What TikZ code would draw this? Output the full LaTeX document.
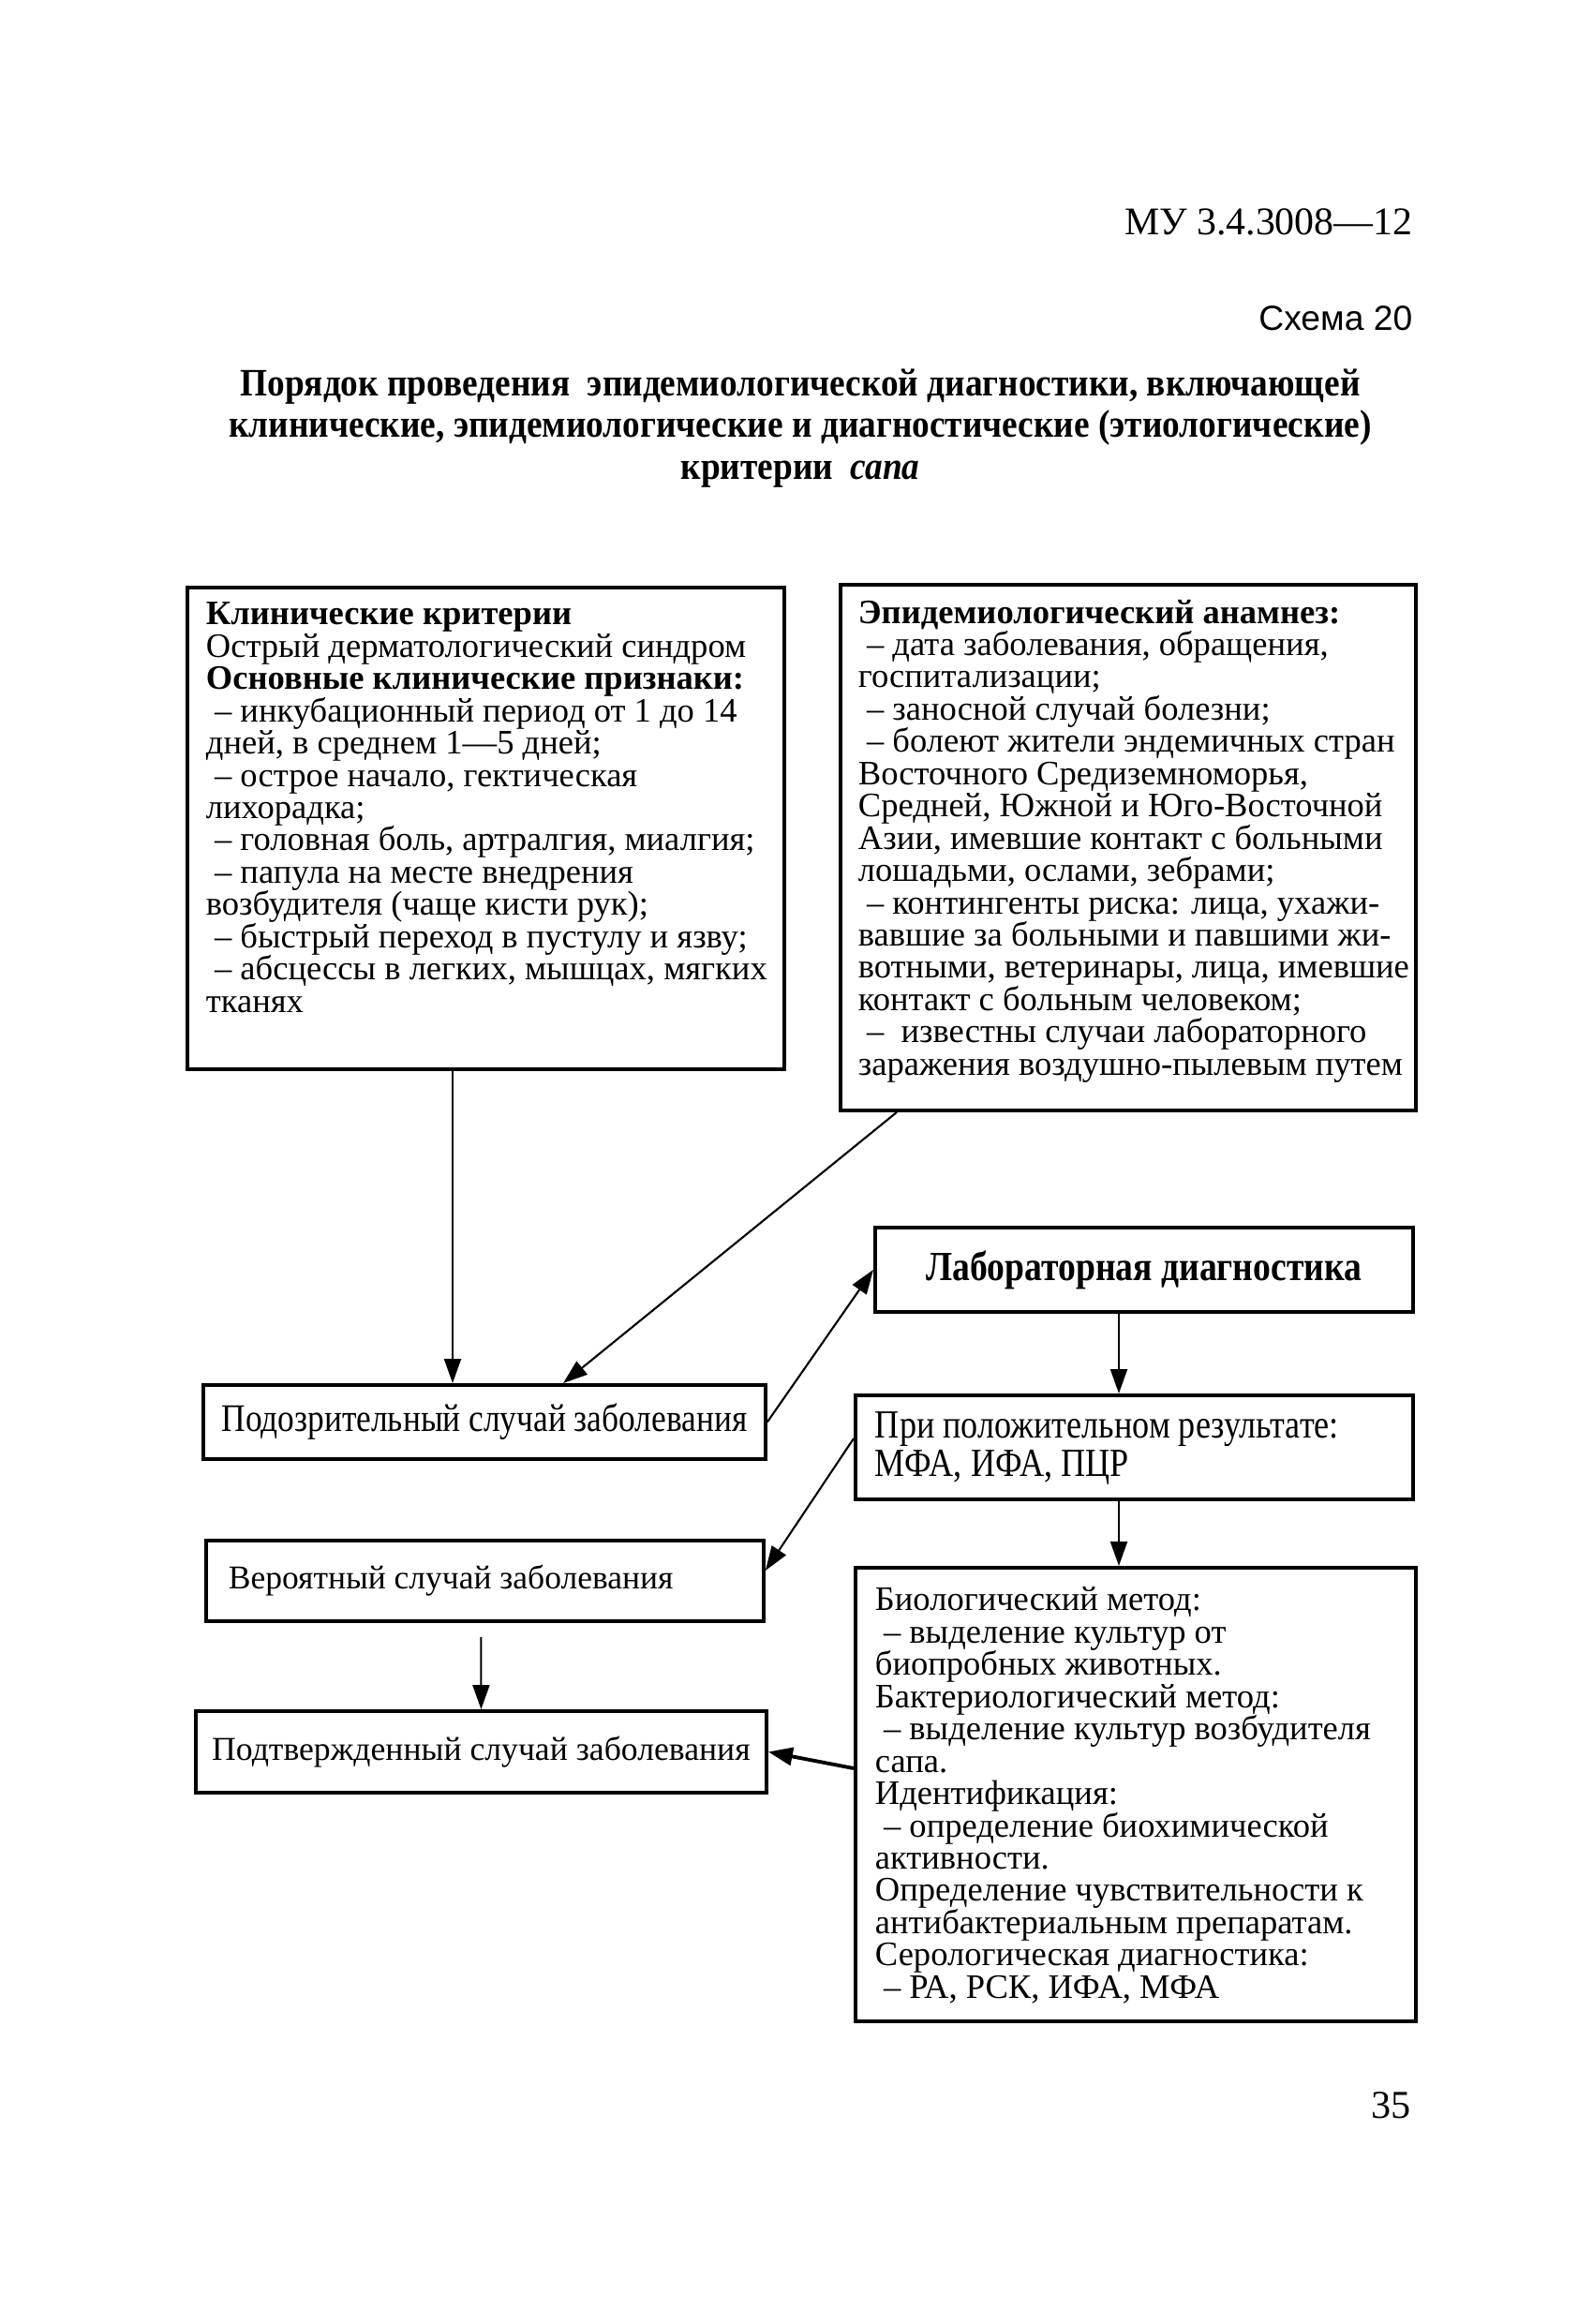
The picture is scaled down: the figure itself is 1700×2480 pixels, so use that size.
\documentclass[tikz,border=0pt]{standalone}
\usepackage{fontspec}
\setmainfont{Liberation Serif}
\newfontfamily\condfont[FakeStretch=0.85]{Liberation Serif}
\newfontfamily\titlefont[FakeStretch=0.9]{Liberation Serif}
\newfontfamily\sansfont{Liberation Sans}
\usetikzlibrary{arrows.meta,calc}
\newcommand{\bxt}[3]{\parbox[c][#2][t]{#1}{\raggedright\fontsize{10.4}{9.8}\selectfont #3}}
\newcommand{\lin}[1]{\mbox{#1}\\}
\newcommand{\dl}{\hspace*{0.25em}–\ }
\tikzset{
  bigbox/.style={draw, line width=1.1pt, anchor=north west, inner xsep=2mm, inner ysep=1mm},
  smallbox/.style={draw, line width=1.1pt, anchor=north west, inner sep=0pt},
  arr/.style={-{Triangle[length=2.6mm,width=1.8mm]}, line width=0.6pt},
  arrthick/.style={-{Triangle[length=2.6mm,width=1.9mm]}, line width=1.1pt}
}
\begin{document}
\begin{tikzpicture}[x=0.1mm,y=-0.1mm]
\useasboundingbox (0,0) rectangle (1700,2480);
\fill[white] (0,0) rectangle (1700,2480);

% header
\node[anchor=east, inner sep=0pt] (mu) at (1508,237) {\fontsize{11.9}{14}\selectfont МУ 3.4.3008—12};
\node[anchor=east, inner sep=0pt] (sch) at (1508,340) {\sansfont\fontsize{10.6}{13}\selectfont Схема 20};
\node[align=center, inner sep=0pt, font=\titlefont\bfseries\fontsize{11.8}{12.6}\selectfont] (title) at (854,457)
{Порядок проведения\ \ эпидемиологической диагностики, включающей\\
клинические, эпидемиологические и диагностические (этиологические)\\
критерии\ \ \textit{сапа}};

% clinical criteria
\node[bigbox, inner xsep=2mm, inner ysep=1.6mm] (clin) at (198,625) {\bxt{59.7mm}{48.2mm}{%
\lin{\textbf{Клинические критерии}}
\lin{Острый дерматологический синдром}
\lin{\textbf{Основные клинические признаки:}}
\lin{\dl инкубационный период от 1 до 14}
\lin{дней, в среднем 1—5 дней;}
\lin{\dl острое начало, гектическая}
\lin{лихорадка;}
\lin{\dl головная боль, артралгия, миалгия;}
\lin{\dl папула на месте внедрения}
\lin{возбудителя (чаще кисти рук);}
\lin{\dl быстрый переход в пустулу и язву;}
\lin{\dl абсцессы в легких, мышцах, мягких}
\mbox{тканях}}};

% epidemiological anamnesis
\node[bigbox, inner xsep=1.9mm, inner ysep=1.6mm] (epid) at (895,622) {\bxt{57.6mm}{52.9mm}{%
\lin{\textbf{Эпидемиологический анамнез:}}
\lin{\dl дата заболевания, обращения,}
\lin{госпитализации;}
\lin{\dl заносной случай болезни;}
\lin{\dl болеют жители эндемичных стран}
\lin{Восточного Средиземноморья,}
\lin{Средней, Южной и Юго-Восточной}
\lin{Азии, имевшие контакт с больными}
\lin{лошадьми, ослами, зебрами;}
\lin{\dl контингенты риска: лица, ухажи-}
\lin{вавшие за больными и павшими жи-}
\lin{вотными, ветеринары, лица, имевшие}
\lin{контакт с больным человеком;}
\lin{\dl\ известны случаи лабораторного}
\mbox{заражения воздушно-пылевым путем}}};

% laboratory diagnostics
\node[smallbox, minimum width=57.4mm, minimum height=9mm] (lab) at (932,1308)
  {\condfont\bfseries\fontsize{12.6}{14}\selectfont Лабораторная диагностика};

% suspected case
\node[smallbox, minimum width=60mm, minimum height=7.9mm] (sus) at (215,1476)
  {\condfont\fontsize{11.85}{14}\selectfont Подозрительный случай заболевания};

% positive result
\node[bigbox, inner xsep=2.1mm, inner ysep=1.8mm] (pos) at (911,1487)
  {\parbox[c][7.5mm][t]{55.3mm}{\raggedright\condfont\fontsize{12.1}{11.5}\selectfont
  \lin{При положительном результате:}
  \mbox{МФА, ИФА, ПЦР}}};

% probable case
\node[smallbox, inner xsep=2.4mm, minimum width=59.5mm, minimum height=8.6mm] (prob) at (218,1642)
  {\makebox[54.7mm][l]{\fontsize{10.1}{12}\selectfont Вероятный случай заболевания}};

% confirmed case
\node[smallbox, minimum width=60.9mm, minimum height=8.7mm] (conf) at (207,1824)
  {\fontsize{10.15}{12}\selectfont Подтвержденный случай заболевания};

% methods
\node[bigbox, inner xsep=2.1mm, inner ysep=2.1mm] (bio) at (911,1671) {\bxt{55.6mm}{44.2mm}{%
\lin{Биологический метод:}
\lin{\dl выделение культур от}
\lin{биопробных животных.}
\lin{Бактериологический метод:}
\lin{\dl выделение культур возбудителя}
\lin{сапа.}
\lin{Идентификация:}
\lin{\dl определение биохимической}
\lin{активности.}
\lin{Определение чувствительности к}
\lin{антибактериальным препаратам.}
\lin{Серологическая диагностика:}
\mbox{\dl РА, РСК, ИФА, МФА}}};

% page number
\node[anchor=east, inner sep=0pt] (pg) at (1506,2247) {\fontsize{12}{14}\selectfont 35};

% connectors
\draw[arr] (clin.south -| 483,0) -- (sus.north -| 483,0);
\draw[arr] ($(epid.south west)+(62,0)$) -- ($(sus.north west)+(386,0)$);
\draw[arr] (sus.east) -- (lab.west);
\draw[arr] (lab.south -| 1194,0) -- (pos.north -| 1194,0);
\draw[arr] ($(pos.north west)+(0,48)$) -- ($(prob.east)+(0,-11)$);
\draw[arr] (pos.south -| 1194,0) -- (bio.north -| 1194,0);
\draw[arr] ($(prob.south)+(-4,15)$) -- (conf.north);
\draw[arrthick] ($(bio.north west)+(0,216)$) -- (conf.east);
\end{tikzpicture}
\end{document}
